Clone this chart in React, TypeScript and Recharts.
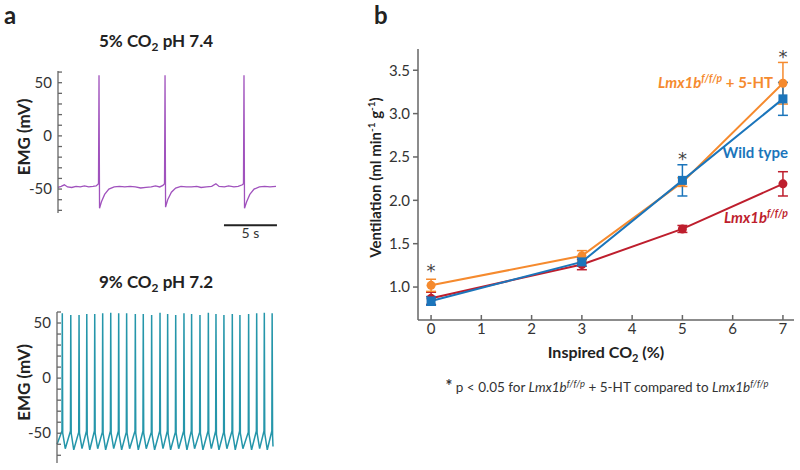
import { LineChart, Line, XAxis, YAxis, ErrorBar, ReferenceLine, ReferenceDot } from 'recharts'

// panel a: EMG traces, [time (s), mV]
const trace74: [number, number][] = [
  [0, -48.5], [0.3, -47.5], [0.6, -46], [0.9, -48], [1.3, -48.5], [1.7, -47.5], [2.1, -48], [2.5, -47],
  [2.9, -48], [3.3, -47.5], [3.6, -47], [3.82, -45], [3.87, 57], [3.92, -68], [4.1, -62], [4.4, -55],
  [4.8, -50], [5.3, -48], [5.8, -47.5], [6.3, -48], [6.8, -47.5], [7.3, -48], [7.8, -49], [8.3, -48.5],
  [8.8, -48], [9.2, -47], [9.6, -48], [9.9, -46.5], [10.05, -45], [10.1, 57], [10.15, -67], [10.35, -60],
  [10.7, -53], [11.1, -49], [11.6, -47.5], [12.1, -48], [12.6, -48], [13.1, -47.5], [13.5, -48.5], [14, -48],
  [14.5, -47.5], [14.9, -45], [15.2, -47.5], [15.7, -48], [16.1, -47], [16.6, -48], [17, -47.5], [17.4, -46],
  [17.5, -45], [17.55, 57], [17.6, -68], [17.8, -62], [18.1, -55], [18.5, -50], [19, -48], [19.5, -47.5],
  [20, -48], [20.57, -47.5],
]

const trace72: [number, number][] = [
  [0, -60], [0.47, -48], [0.5, 58.8], [0.54, -50], [0.78, -64],
  [1.27, -48], [1.3, 57.3], [1.34, -50], [1.58, -65],
  [2.05, -49], [2.08, 57.3], [2.12, -50], [2.36, -64],
  [2.78, -48], [2.81, 58.2], [2.85, -51], [3.09, -65],
  [3.53, -48], [3.56, 58.2], [3.6, -50], [3.84, -64],
  [4.28, -49], [4.31, 58.8], [4.35, -50], [4.59, -65],
  [5.04, -48], [5.07, 59.4], [5.11, -50], [5.35, -64],
  [5.79, -48], [5.82, 58.8], [5.86, -51], [6.1, -65],
  [6.54, -49], [6.57, 58.8], [6.61, -50], [6.85, -64],
  [7.36, -48], [7.39, 58.2], [7.43, -50], [7.67, -65],
  [8.11, -48], [8.14, 58.2], [8.18, -50], [8.42, -64],
  [8.9, -49], [8.93, 57.3], [8.97, -51], [9.21, -65],
  [9.69, -48], [9.72, 59.4], [9.76, -50], [10.0, -64],
  [10.41, -48], [10.44, 58.2], [10.48, -50], [10.72, -65],
  [11.17, -49], [11.2, 57.3], [11.24, -50], [11.48, -64],
  [11.95, -48], [11.98, 58.8], [12.02, -51], [12.26, -65],
  [12.67, -48], [12.7, 58.2], [12.74, -50], [12.98, -64],
  [13.46, -49], [13.49, 57.3], [13.53, -50], [13.77, -65],
  [14.25, -48], [14.28, 59.4], [14.32, -50], [14.56, -64],
  [14.97, -48], [15.0, 58.2], [15.04, -51], [15.28, -65],
  [15.72, -49], [15.75, 57.3], [15.79, -50], [16.03, -64],
  [16.51, -48], [16.54, 58.2], [16.58, -50], [16.82, -65],
  [17.23, -48], [17.26, 57.3], [17.3, -50], [17.54, -64],
  [18.05, -49], [18.08, 58.2], [18.12, -51], [18.36, -65],
  [18.81, -48], [18.84, 58.8], [18.88, -50], [19.12, -64],
  [19.53, -48], [19.56, 59.4], [19.6, -50], [19.84, -65],
  [20.27, -48], [20.3, 58.8], [20.34, -52], [20.38, -62],
]

const emgTicks = [-70, -60, -50, -40, -30, -20, -10, 0, 10, 20, 30, 40, 50, 60]
const emgMajor = [-50, 0, 50]

// panel b: ventilation vs inspired CO2
const co2 = [0, 3, 5, 7]
const wildType = [0.84, 1.29, 2.23, 3.17]
const wildTypeErr = [0.05, 0.05, 0.18, 0.19]
const lmx = [0.87, 1.26, 1.67, 2.19]
const lmxErr = [0.07, 0.06, 0.04, 0.14]
const lmxHT = [1.02, 1.36, 2.21, 3.35]
const lmxHTErr = [0.07, 0.06, 0.05, 0.24]
const sigCo2 = [0, 5, 7]
const sigY = [1.24, 2.53, 3.71]
const ventTicks = [1.0, 1.5, 2.0, 2.5, 3.0, 3.5]
const co2Ticks = [0, 1, 2, 3, 4, 5, 6, 7]

const FONT = 'Lato, "Open Sans", sans-serif'
const ORANGE = '#f58a2e'
const BLUE = '#1b75bb'
const RED = '#be1e2d'
const PURPLE = '#a052bd'
const TEAL = '#2596aa'
const AXIS = '#666'

const ventData = co2.map((c, i) => ({
  co2: c,
  wt: wildType[i],
  wtErr: wildTypeErr[i],
  lmx: lmx[i],
  lmxErr: lmxErr[i],
  ht: lmxHT[i],
  htErr: lmxHTErr[i],
}))

const EmgTick = (props: any) => {
  const { x, y, payload } = props
  if (!emgMajor.includes(payload.value)) return <g />
  return (
    <text x={x} y={y} dy={5} textAnchor="end" fontSize={15} fill="#333" fontFamily={FONT}>
      {payload.value}
    </text>
  )
}

const EmgLabel = (props: any) => {
  const { y, height } = props.viewBox
  return (
    <text
      transform={`translate(30,${y + height / 2 - 5}) rotate(-90)`}
      textAnchor="middle"
      fontSize={17}
      fontWeight={700}
      fill="#222"
      fontFamily={FONT}
    >
      EMG (mV)
    </text>
  )
}

const VentLabel = (props: any) => {
  const { y, height } = props.viewBox
  return (
    <text
      transform={`translate(21,${y + height / 2 - 7}) rotate(-90)`}
      textAnchor="middle"
      fontSize={15}
      fontWeight={700}
      fill="#222"
      fontFamily={FONT}
    >
      Ventilation (ml min<tspan dy={-6} fontSize={10}>-1</tspan>
      <tspan dy={6}> g</tspan>
      <tspan dy={-6} fontSize={10}>-1</tspan>
      <tspan dy={6}>)</tspan>
    </text>
  )
}

const Co2Label = (props: any) => {
  const { x, y, width } = props.viewBox
  return (
    <text x={x + width / 2} y={y + 38} textAnchor="middle" fontSize={16} fontWeight={700} fill="#222" fontFamily={FONT}>
      Inspired CO<tspan dy={4} fontSize={11}>2</tspan>
      <tspan dy={-4}> (%)</tspan>
    </text>
  )
}

const SquareDot = (props: any) => {
  const { cx, cy } = props
  if (cx == null || cy == null) return <g />
  return <rect x={cx - 4.5} y={cy - 4.5} width={9} height={9} fill={BLUE} />
}

const Star = (props: any) => {
  const { cx, cy } = props
  return (
    <text x={cx} y={cy + 11} textAnchor="middle" fontSize={18} fill="#444" fontFamily="'DejaVu Sans', sans-serif">
      *
    </text>
  )
}

const Sup = ({ children }: { children: any }) => (
  <sup style={{ fontSize: '0.7em', fontStyle: 'italic' }}>{children}</sup>
)

export default function App() {
  const top = trace74.map(([t, v]) => ({ t, v }))
  const bottom = trace72.map(([t, v]) => ({ t, v }))

  return (
    <div style={{ position: 'absolute', left: 0, top: 0, width: 800, height: 470, background: '#fff', fontFamily: FONT, color: '#222' }}>
      <div style={{ position: 'absolute', left: 4, top: 0, fontSize: 24, fontWeight: 700 }}>a</div>
      <div style={{ position: 'absolute', left: 374, top: 0, fontSize: 24, fontWeight: 700 }}>b</div>

      <div style={{ position: 'absolute', left: 56, top: 30, width: 200, textAlign: 'center', fontSize: 17, fontWeight: 700 }}>
        5% CO<sub style={{ fontSize: '0.7em' }}>2</sub> pH 7.4
      </div>
      <div style={{ position: 'absolute', left: 56, top: 271, width: 200, textAlign: 'center', fontSize: 17, fontWeight: 700 }}>
        9% CO<sub style={{ fontSize: '0.7em' }}>2</sub> pH 7.2
      </div>

      <div style={{ position: 'absolute', left: 0, top: 0 }}>
        <LineChart width={300} height={250} data={top} margin={{ top: 71, right: 24, bottom: 37, left: 0 }}>
          <XAxis type="number" dataKey="t" domain={[0, 20.57]} hide />
          <YAxis
            type="number"
            domain={[-72.5, 61]}
            ticks={emgTicks}
            interval={0}
            allowDataOverflow
            width={58}
            tickSize={-4}
            tickMargin={10}
            tick={EmgTick}
            stroke={AXIS}
            strokeWidth={1.3}
            label={{ content: EmgLabel }}
          />
          <Line type="linear" dataKey="v" stroke={PURPLE} strokeWidth={1.3} dot={false} isAnimationActive={false} />
          <ReferenceLine
            segment={[{ x: 15.66, y: -84 }, { x: 20.66, y: -84 }]}
            ifOverflow="visible"
            stroke="#222"
            strokeWidth={2}
            label={{ value: '5 s', position: 'bottom', offset: 3, fontSize: 14, fill: '#333', fontFamily: FONT }}
          />
        </LineChart>
      </div>

      <div style={{ position: 'absolute', left: 0, top: 240 }}>
        <LineChart width={300} height={230} data={bottom} margin={{ top: 72, right: 27, bottom: 7, left: 0 }}>
          <XAxis type="number" dataKey="t" domain={[0, 20.38]} hide />
          <YAxis
            type="number"
            domain={[-77, 60]}
            ticks={emgTicks}
            interval={0}
            allowDataOverflow
            width={57}
            tickSize={-4}
            tickMargin={10}
            tick={EmgTick}
            stroke={AXIS}
            strokeWidth={1.3}
            label={{ content: EmgLabel }}
          />
          <Line type="linear" dataKey="v" stroke={TEAL} strokeWidth={1.5} dot={false} isAnimationActive={false} />
        </LineChart>
      </div>

      <div style={{ position: 'absolute', left: 360, top: 0 }}>
        <LineChart width={440} height={470} data={ventData} margin={{ top: 49, right: 6, bottom: 110, left: 0 }}>
          <XAxis
            type="number"
            dataKey="co2"
            domain={[-0.26, 7.22]}
            ticks={co2Ticks}
            interval={0}
            height={40}
            tickSize={-5}
            tickMargin={8}
            stroke={AXIS}
            strokeWidth={1.5}
            tick={{ fontSize: 15, fill: '#333', fontFamily: FONT }}
            label={{ content: Co2Label }}
          />
          <YAxis
            type="number"
            domain={[0.62, 3.745]}
            ticks={ventTicks}
            interval={0}
            allowDataOverflow
            width={58}
            tickSize={5}
            tickMargin={3}
            stroke={AXIS}
            strokeWidth={1.5}
            tickFormatter={(v: number) => v.toFixed(1)}
            tick={{ fontSize: 15, fill: '#333', fontFamily: FONT }}
            label={{ content: VentLabel }}
          />
          <Line type="linear" dataKey="lmx" stroke={RED} strokeWidth={2} dot={{ r: 4.5, fill: RED, stroke: 'none' }} isAnimationActive={false}>
            <ErrorBar dataKey="lmxErr" direction="y" width={5} stroke={RED} strokeWidth={1.5} />
          </Line>
          <Line type="linear" dataKey="ht" stroke={ORANGE} strokeWidth={2} dot={{ r: 4.5, fill: ORANGE, stroke: 'none' }} isAnimationActive={false}>
            <ErrorBar dataKey="htErr" direction="y" width={5} stroke={ORANGE} strokeWidth={1.5} />
          </Line>
          <Line type="linear" dataKey="wt" stroke={BLUE} strokeWidth={2} dot={SquareDot} isAnimationActive={false}>
            <ErrorBar dataKey="wtErr" direction="y" width={5} stroke={BLUE} strokeWidth={1.5} />
          </Line>
          {sigCo2.map((c, i) => (
            <ReferenceDot key={c} x={c} y={sigY[i]} r={0} shape={Star} ifOverflow="visible" />
          ))}
        </LineChart>
      </div>

      <div style={{ position: 'absolute', right: 27, top: 72, color: ORANGE, fontSize: 15, fontWeight: 700, whiteSpace: 'nowrap' }}>
        <i>Lmx1b</i><Sup>f/f/p</Sup> + 5-HT
      </div>
      <div style={{ position: 'absolute', right: 12, top: 143, color: BLUE, fontSize: 15, fontWeight: 700, whiteSpace: 'nowrap' }}>
        Wild type
      </div>
      <div style={{ position: 'absolute', right: 12, top: 207, color: RED, fontSize: 15, fontWeight: 700, whiteSpace: 'nowrap' }}>
        <i>Lmx1b</i><Sup>f/f/p</Sup>
      </div>

      <div style={{ position: 'absolute', left: 360, top: 376, width: 494, textAlign: 'center', fontSize: 13.5, color: '#333', whiteSpace: 'nowrap' }}>
        <b style={{ fontSize: '1.2em' }}>*</b> p &lt; 0.05 for <i>Lmx1b</i><Sup>f/f/p</Sup> + 5-HT compared to <i>Lmx1b</i><Sup>f/f/p</Sup>
      </div>
    </div>
  )
}
